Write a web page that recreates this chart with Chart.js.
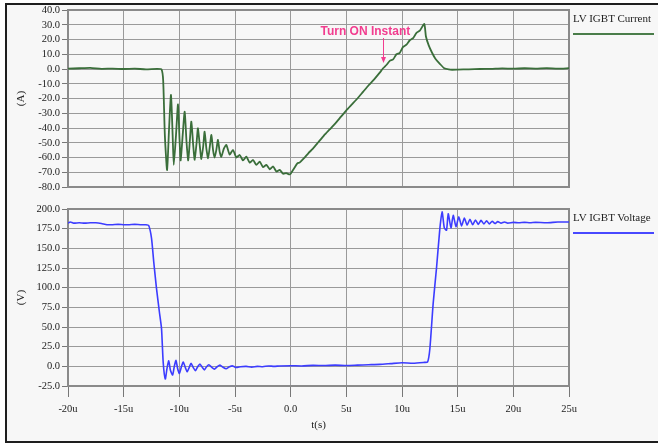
<!DOCTYPE html>
<html>
<head>
<meta charset="utf-8">
<script src="https://cdn.jsdelivr.net/npm/chart.js@4.4.1/dist/chart.umd.min.js"></script>
<style>
  body { margin: 0; background: #fff; }
  #frame { position: absolute; left: 5px; top: 3px; width: 653px; height: 436px; border: 2px solid #1e1e1e; background: #f7f7f7; }
  canvas { position: absolute; left: 0; }
  .legend { position: absolute; left: 573px; font-family: "Liberation Serif", serif; font-size: 11px; line-height: 12px; color: #222; white-space: nowrap; }
  .legend-line { position: absolute; left: 573px; width: 81px; height: 2px; }
</style>
</head>
<body>
<div id="frame"></div>
<canvas id="currentChart" width="658" height="200" style="top:0"></canvas>
<canvas id="voltageChart" width="658" height="245" style="top:195px"></canvas>
<div class="legend" style="top:12px">LV IGBT Current</div>
<div class="legend-line" style="top:33px; background:#4a7d4a"></div>
<div class="legend" style="top:211px">LV IGBT Voltage</div>
<div class="legend-line" style="top:232px; background:#4848ff"></div>
<script>
// time axis (microseconds)
const xTickLabels = ['-20u', '-15u', '-10u', '-5u', '0.0', '5u', '10u', '15u', '20u', '25u'];

// LV IGBT Current (A)
const currentTime = [
  -20, -19, -18, -17, -16, -15, -14, -13, -12, -11.6,
  -11.45, -11.3, -11.1, -10.92, -10.75, -10.6, -10.5, -10.3, -10.12, -9.98,
  -9.88, -9.7, -9.52, -9.35, -9.2, -9.05, -8.92, -8.75, -8.62, -8.45,
  -8.33, -8.15, -8.02, -7.85, -7.73, -7.57, -7.42, -7.27, -7.12, -6.97,
  -6.83, -6.68, -6.53, -6.38, -6.23, -6.0, -5.78, -5.48, -5.18, -4.88,
  -4.58, -4.28, -3.98, -3.68, -3.38, -3.08, -2.78, -2.48, -2.18, -1.88,
  -1.58, -1.28, -0.98, -0.68, -0.4, -0.1, 0.0, 0.3, 0.6, 0.8,
  1.2, 1.6, 2.0, 2.5, 3.0, 3.5, 4.0, 4.5, 5.0, 5.5,
  6.0, 6.5, 7.0, 7.5, 8.0, 8.3, 8.6, 8.9, 9.2, 9.5,
  9.8, 10.1, 10.4, 10.7, 11.0, 11.3, 11.6, 12.0, 12.15, 12.4,
  12.7, 13.0, 13.4, 13.8, 14.2, 14.5, 15, 16, 17, 18,
  19, 20, 21, 22, 23, 24, 25
];
const currentValues = [
  0.2, 0.5, 0.8, 0.1, 0.3, 0.0, 0.2, -0.2, 0.1, -0.3,
  -8, -45, -68.5, -40, -17.6, -45, -65, -45, -24, -48,
  -62, -45, -29, -50, -62, -48, -35.7, -52, -61.5, -50,
  -40.2, -53, -61, -52, -42.5, -54, -60.5, -53, -44.7, -55,
  -60, -55, -48, -56, -59.5, -54, -51.5, -58, -54.9, -60,
  -58.3, -62, -59.4, -63.5, -61.7, -65, -62.8, -66.5, -65, -68,
  -66.1, -69.5, -68.4, -71, -70.6, -71.5, -71, -67.5, -64, -63.5,
  -60.5, -57, -54, -49.5, -45, -41, -37, -32.5, -28, -24,
  -20, -15.5, -11, -7, -2.5, 0.5, 2.7, 5.5, 6.5, 10,
  11, 15, 16.5, 19.5, 21, 24.5, 26, 30.5, 22, 16,
  11, 7, 3.5, 0.5, -0.3, -0.5, -0.4, -0.2, 0.0, 0.1,
  0.4, 0.2, 0.5, 0.3, 0.6, 0.2, 0.6
];

// LV IGBT Voltage (V)
const voltageTime = [
  -20, -19.8, -19.5, -19, -18.5, -18, -17.5, -17, -16.5, -16,
  -15.5, -15, -14.5, -14, -13.5, -13, -12.75, -12.5, -12.3, -12.06,
  -11.8, -11.6, -11.45, -11.26, -11.1, -10.95, -10.8, -10.6, -10.45, -10.3,
  -10.15, -10.0, -9.8, -9.65, -9.45, -9.3, -9.1, -8.95, -8.75, -8.55,
  -8.35, -8.15, -7.95, -7.75, -7.55, -7.35, -7.1, -6.85, -6.6, -6.35,
  -6.1, -5.8, -5.5, -5.2, -4.9, -4.5, -4.0, -3.5, -3.0, -2.5,
  -2.0, -1.5, -1.0, 0, 1, 2, 3, 4, 5, 6,
  7, 8, 9, 10, 11, 12, 12.3, 12.5, 12.8, 13.1,
  13.4, 13.6, 13.8, 14.0, 14.15, 14.4, 14.6, 14.85, 15.1, 15.35,
  15.6, 15.85, 16.1, 16.35, 16.6, 16.85, 17.1, 17.35, 17.6, 17.85,
  18.1, 18.35, 18.6, 18.9, 19.2, 19.5, 20, 20.5, 21, 21.5,
  22, 23, 24, 25
];
const voltageValues = [
  182, 183.5, 182, 182.5, 182, 182.5, 182.5, 181.5, 180, 180,
  180.5, 180, 180, 180.5, 180, 180, 179, 163, 133, 100,
  70, 48, 5, -16, -2, 7, -5, -11, 0, 7.5,
  -3, -9, 0, 5.5, -2, -7, -1, 4, -1.5, -5.5,
  -0.5, 3, -1, -4.5, -0.5, 2, -1, -3.5, -0.5, 1.5,
  -1, -3, -0.5, 0.5, -1.5, -0.5, 0, -1, 0, -0.5,
  0.5, 0, 0.5, 0.8, 0.5, 1.2, 1.0, 1.5, 1.0, 1.5,
  2.0, 2.5, 3.5, 4.5, 4.0, 5.0, 5.5, 22, 80, 125,
  175, 196.5, 176, 173, 194, 176, 192, 177.5, 190, 178.5,
  188.5, 179.5, 187, 180, 186, 180.5, 185.5, 181, 185, 181,
  184.5, 181.5, 184, 182, 183.5, 182, 183, 182.5, 183, 182.5,
  183, 182.5, 183.5, 183.5
];

// annotation on the current plot
const annotText = 'Turn ON Instant';
const annotTime = 8.3;
const annotValue = 4;
const annotColor = '#f23d8f';

const tickFont = { family: '"Liberation Serif", "Times New Roman", serif', size: 10.5 };
const titleFont = { family: '"Liberation Serif", "Times New Roman", serif', size: 11 };
const textColor = '#222';

const gridStyle = {
  color: '#9a9a9a',
  lineWidth: 1,
  borderDash: [1, 2],
  tickBorderDash: [],
  tickColor: '#777',
  tickLength: 6
};

const plotBorder = {
  id: 'plotBorder',
  beforeDatasetsDraw(chart) {
    const { ctx, chartArea: a } = chart;
    ctx.save();
    ctx.strokeStyle = '#8a8a8a';
    ctx.lineWidth = 2;
    ctx.strokeRect(a.left, a.top, a.right - a.left, a.bottom - a.top);
    ctx.restore();
  }
};

const turnOnNote = {
  id: 'turnOnNote',
  afterDatasetsDraw(chart) {
    const { ctx, scales: { x, y } } = chart;
    const px = Math.round(x.getPixelForValue(annotTime)) + 0.5;
    const tipY = y.getPixelForValue(annotValue);
    ctx.save();
    ctx.fillStyle = annotColor;
    ctx.strokeStyle = annotColor;
    ctx.font = 'bold 12px "Liberation Sans", Arial, sans-serif';
    ctx.fillText(annotText, px - 63, 35);
    ctx.lineWidth = 1;
    ctx.beginPath();
    ctx.moveTo(px, 38);
    ctx.lineTo(px, tipY - 5);
    ctx.stroke();
    ctx.beginPath();
    ctx.moveTo(px - 2.5, tipY - 6);
    ctx.lineTo(px + 2.5, tipY - 6);
    ctx.lineTo(px, tipY);
    ctx.closePath();
    ctx.fill();
    ctx.restore();
  }
};

function toPoints(times, values) {
  return times.map((t, i) => ({ x: t, y: values[i] }));
}

function yScale(min, max, step, title) {
  return {
    min: min,
    max: max,
    ticks: { stepSize: step, autoSkip: false, callback: v => v.toFixed(1), font: tickFont, color: textColor, padding: 2 },
    grid: { ...gridStyle },
    border: { display: false },
    title: { display: true, text: title, font: titleFont, color: textColor, padding: { top: 15, bottom: 0 } },
    afterFit: s => { s.width = 68; }
  };
}

// top: current
new Chart(document.getElementById('currentChart'), {
  type: 'line',
  data: {
    datasets: [{
      data: toPoints(currentTime, currentValues),
      borderColor: '#3a6e3a',
      borderWidth: 1.8,
      pointRadius: 0,
      tension: 0.2
    }]
  },
  options: {
    responsive: false,
    devicePixelRatio: 1,
    animation: false,
    layout: { padding: { left: 0, right: 89, top: 10, bottom: 13 } },
    plugins: { legend: { display: false }, tooltip: { enabled: false } },
    scales: {
      x: {
        type: 'linear',
        min: -20,
        max: 25,
        ticks: { display: false, stepSize: 5 },
        grid: { ...gridStyle, drawTicks: false },
        border: { display: false },
        afterFit: s => { s.height = 0; }
      },
      y: yScale(-80, 40, 10, '(A)')
    }
  },
  plugins: [plotBorder, turnOnNote]
});

// bottom: voltage
new Chart(document.getElementById('voltageChart'), {
  type: 'line',
  data: {
    datasets: [{
      data: toPoints(voltageTime, voltageValues),
      borderColor: '#3c3cff',
      borderWidth: 1.6,
      pointRadius: 0,
      tension: 0.2
    }]
  },
  options: {
    responsive: false,
    devicePixelRatio: 1,
    animation: false,
    layout: { padding: { left: 0, right: 89, top: 14, bottom: 0 } },
    plugins: { legend: { display: false }, tooltip: { enabled: false } },
    scales: {
      x: {
        type: 'linear',
        min: -20,
        max: 25,
        ticks: {
          stepSize: 5,
          autoSkip: false,
          maxRotation: 0,
          font: tickFont,
          color: textColor,
          padding: 6,
          callback: v => xTickLabels[Math.round((v + 20) / 5)]
        },
        grid: { ...gridStyle, tickLength: 11 },
        border: { display: false },
        title: { display: true, text: 't(s)', font: titleFont, color: textColor, padding: { top: 0, bottom: 8 } },
        afterFit: s => { s.height = 54; }
      },
      y: yScale(-25, 200, 25, '(V)')
    }
  },
  plugins: [plotBorder]
});
</script>
</body>
</html>
